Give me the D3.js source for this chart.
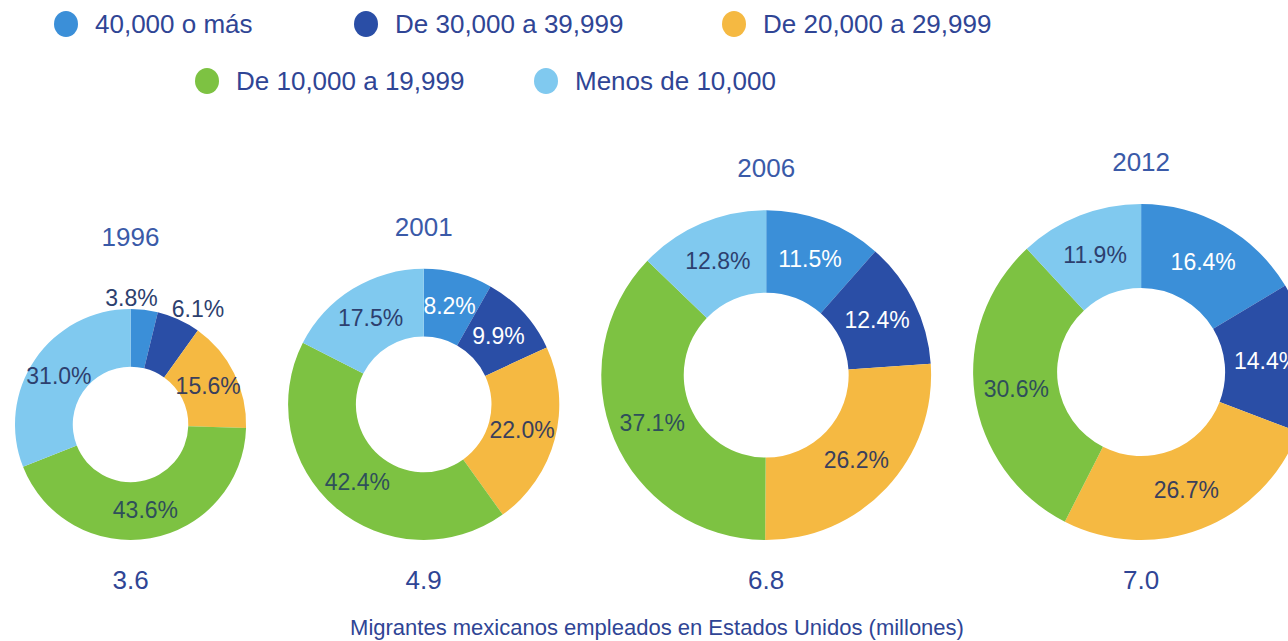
<!DOCTYPE html>
<html lang="es">
<head>
<meta charset="UTF-8">
<script src="https://d3js.org/d3.v7.min.js"></script>
<title>Migrantes mexicanos</title>
<style>
  body { margin: 0; background: #fff; }
  text { font-family: "Liberation Sans", "DejaVu Sans", sans-serif; }
</style>
</head>
<body>
<script>
// datos
var years = ["1996", "2001", "2006", "2012"];
var totals = [3.6, 4.9, 6.8, 7.0];   // millones
var categories = ["40,000 o más", "De 30,000 a 39,999", "De 20,000 a 29,999",
                  "De 10,000 a 19,999", "Menos de 10,000"];
var share1996 = [3.8, 6.1, 15.6, 43.6, 31.0];
var share2001 = [8.2, 9.9, 22.0, 42.4, 17.5];
var share2006 = [11.5, 12.4, 26.2, 37.1, 12.8];
var share2012 = [16.4, 14.4, 26.7, 30.6, 11.9];
var shares = [share1996, share2001, share2006, share2012];

var width = 1288, height = 641;
var colors = ["#3b8fd8", "#2a4ea6", "#f5b942", "#7dc242", "#80c9ef"];
var labelColors = ["#ffffff", "#ffffff", "#3a3f5c", "#2f4f5a", "#2d3f6e"];
var navy = "#2f4595";

var svg = d3.select("body").append("svg")
  .attr("width", width).attr("height", height);

// leyenda
var legendPos = [[66, 24], [366, 24], [734, 24], [207, 81], [546, 81]];
var legend = svg.append("g").selectAll("g")
  .data(categories)
  .enter().append("g")
  .attr("transform", function(d, i) { return "translate(" + legendPos[i][0] + "," + legendPos[i][1] + ")"; });
legend.append("ellipse")
  .attr("rx", 12).attr("ry", 13)
  .attr("fill", function(d, i) { return colors[i]; });
legend.append("text")
  .attr("x", 29).attr("dy", "0.35em")
  .style("font-size", "26px")
  .attr("fill", navy)
  .text(function(d) { return d; });

// radio según el total
var rScale = d3.scaleLinear().domain([0, 7.0]).range([60, 168]);
var gap = 42, bottom = 540;
var cx = [], x = 15;
totals.forEach(function(t, i) {
  var r = rScale(t);
  x += r;
  cx.push(x);
  x += r + gap;
});

var pie = d3.pie().sort(null).value(function(d) { return d; });

years.forEach(function(year, k) {
  var R = rScale(totals[k]);
  var r0 = R * 0.5;
  var cy = bottom - R;
  var g = svg.append("g").attr("transform", "translate(" + cx[k] + "," + cy + ")");
  var arc = d3.arc().innerRadius(r0).outerRadius(R);
  var labelArc = d3.arc().innerRadius((r0 + R) / 2).outerRadius((r0 + R) / 2);
  var outArc = d3.arc().innerRadius(R + 12).outerRadius(R + 12);
  var arcs = pie(shares[k]);

  g.selectAll("path")
    .data(arcs)
    .enter().append("path")
    .attr("d", arc)
    .attr("fill", function(d) { return colors[d.index]; });

  // porcentajes: los sectores pequeños llevan la etiqueta afuera
  var hasOutside = false;
  g.selectAll(".lbl")
    .data(arcs)
    .enter().append("text")
    .attr("class", "lbl")
    .each(function(d) {
      d.out = d.data < 7;
      if (d.out) hasOutside = true;
      var c = (d.out ? outArc : labelArc).centroid(d);
      var s = Math.sin((d.startAngle + d.endAngle) / 2);
      var anchor = "middle", dx = 0;
      if (d.out) {
        anchor = s < 0.2 ? "end" : "start";
        dx = s < 0.2 ? 12 : -12;
      }
      d3.select(this)
        .attr("transform", "translate(" + (c[0] + dx) + "," + c[1] + ")")
        .attr("text-anchor", anchor);
    })
    .attr("dy", "0.35em")
    .style("font-size", "23px")
    .attr("fill", function(d) { return d.out ? labelColors[4] : labelColors[d.index]; })
    .text(function(d) { return d.data.toFixed(1) + "%"; });

  // año
  g.append("text")
    .attr("text-anchor", "middle")
    .attr("y", -R - (hasOutside ? 63 : 33))
    .style("font-size", "26px")
    .attr("fill", "#3a5aa8")
    .text(year);

  // total
  g.append("text")
    .attr("text-anchor", "middle")
    .attr("y", R + 49)
    .style("font-size", "26px")
    .attr("fill", navy)
    .text(totals[k].toFixed(1));
});

svg.append("text")
  .attr("x", 657).attr("y", 635)
  .attr("text-anchor", "middle")
  .style("font-size", "22px")
  .attr("fill", navy)
  .text("Migrantes mexicanos empleados en Estados Unidos (millones)");
</script>
</body>
</html>
